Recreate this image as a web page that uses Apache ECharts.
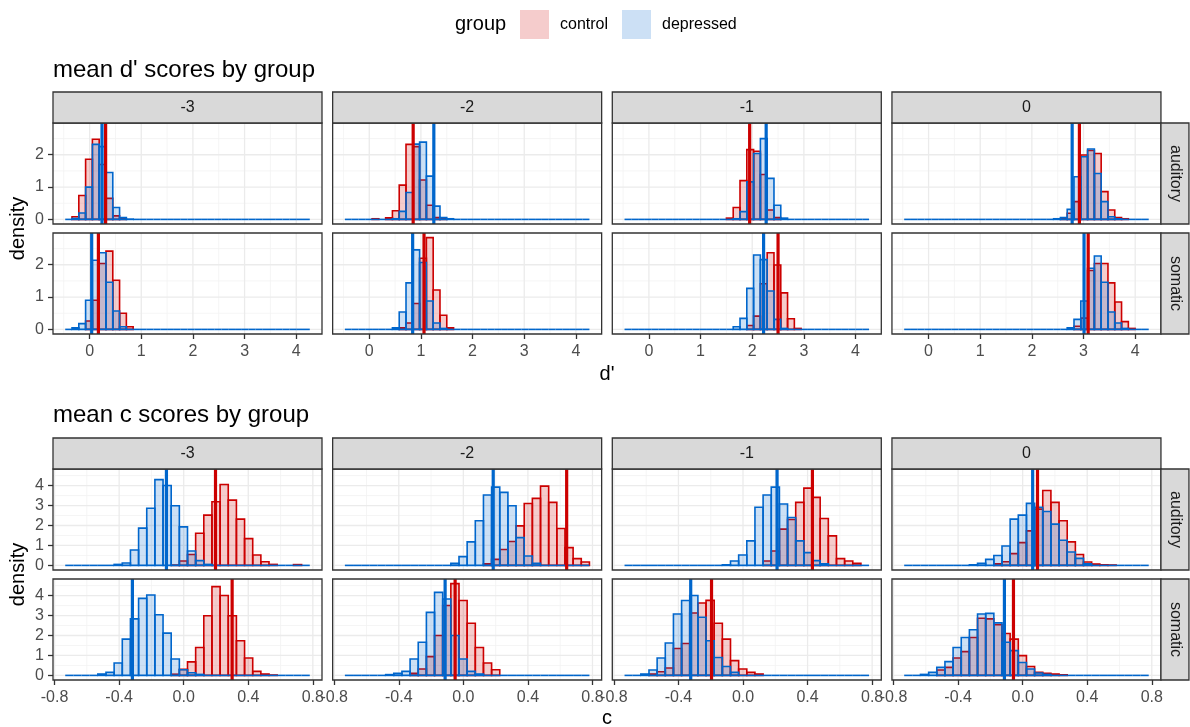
<!DOCTYPE html>
<html>
<head>
<meta charset="utf-8">
<script src="https://cdn.jsdelivr.net/npm/echarts@6/dist/echarts.min.js"></script>
<style>html,body{margin:0;padding:0;background:#fff}#chart{width:1190px;height:727px}</style>
</head>
<body>
<div id="chart"></div>
<script>
// ---------------- data ----------------
const facetCols = ['-3', '-2', '-1', '0'];
const facetRows = ['auditory', 'somatic'];
const groupNames = ['control', 'depressed'];

// d' histograms: shared bins
const dBinWidth = 0.1315, dBinOrigin = -0.472, dBinCount = 36;
// first non-empty bin index per column (-3, -2, -1, 0)
const dAudControlStart = [1, 4, 15, 23];
const dAudDepressedStart = [1, 7, 16, 22];
const dSomControlStart = [3, 8, 18, 25];
const dSomDepressedStart = [1, 7, 16, 24];
const dAudControl = [
  [0.08, 0.74, 1.86, 2.48, 1.70, 0.65, 0.11, 0.02],
  [0.02, 0, 0.05, 0.27, 1.06, 2.32, 2.25, 1.22, 0.44, 0.06, 0.02],
  [0.04, 0.37, 1.20, 2.16, 2.11, 1.39, 0.29, 0.06],
  [0.02, 0.19, 0.55, 1.99, 2.13, 2.04, 0.86, 0.29, 0.06, 0.02]
];
const dAudDepressed = [
  [0.03, 0.20, 1.00, 2.32, 2.25, 1.45, 0.37, 0.06, 0.01],
  [0.02, 0.25, 0.83, 2.33, 2.39, 1.34, 0.41, 0.06, 0.02],
  [0.02, 0.24, 1.16, 2.04, 2.50, 1.27, 0.44, 0.04],
  [0.02, 0.06, 0.31, 1.32, 1.94, 2.18, 1.42, 0.55, 0.08, 0.02]
];
const dSomControl = [
  [0.26, 0.90, 2.04, 2.42, 1.52, 0.50, 0.08],
  [0.05, 0.20, 0.80, 2.20, 2.84, 1.22, 0.44, 0.05],
  [0.12, 0.41, 1.41, 2.37, 1.99, 1.13, 0.33, 0.03],
  [0.10, 0.35, 1.82, 2.04, 2.04, 1.44, 0.85, 0.24, 0.03]
];
const dSomDepressed = [
  [0.05, 0.18, 0.90, 2.14, 2.37, 1.46, 0.57, 0.08],
  [0.05, 0.54, 1.44, 2.46, 2.07, 0.88, 0.20, 0.03],
  [0.08, 0.34, 1.27, 2.30, 2.16, 1.19, 0.31, 0.03],
  [0.05, 0.31, 0.88, 1.89, 2.27, 1.46, 0.54, 0.20, 0.03]
];
const dAudControlMean = [0.31, 0.85, 1.95, 2.92];
const dAudDepressedMean = [0.24, 1.25, 2.27, 2.78];
const dSomControlMean = [0.17, 1.06, 2.50, 3.09];
const dSomDepressedMean = [0.04, 0.84, 2.22, 3.01];

// c histograms: shared bins
const cBinWidth = 0.0505, cBinOrigin = -0.734, cBinCount = 30;
const cAudControlStart = [13, 17, 17, 11];
const cAudDepressedStart = [6, 13, 12, 8];
const cSomControlStart = [13, 8, 3, 4];
const cSomDepressedStart = [4, 5, 2, 2];
const cAudControl = [
  [0.02, 0.22, 0.55, 1.61, 2.52, 3.19, 4.05, 3.27, 2.32, 1.34, 0.52, 0.18, 0.05, 0, 0, 0.04],
  [0.08, 0.30, 0.80, 1.20, 1.98, 3.10, 3.36, 3.97, 3.16, 1.85, 0.89, 0.34, 0.17],
  [0.22, 0.72, 1.82, 2.30, 3.16, 3.87, 3.41, 2.35, 1.48, 0.34, 0.22, 0.10],
  [0.08, 0.18, 0.59, 1.14, 1.73, 2.82, 3.75, 3.16, 2.24, 1.18, 0.55, 0.17, 0.07, 0.03, 0.02]
];
const cAudDepressed = [
  [0.05, 0.12, 0.77, 1.87, 2.86, 4.30, 4.00, 2.99, 1.93, 0.72, 0.24, 0.05],
  [0.10, 0.44, 1.18, 2.24, 3.53, 3.92, 3.66, 2.99, 1.39, 0.47, 0.10],
  [0.03, 0.22, 0.52, 1.23, 2.91, 3.53, 3.92, 3.08, 2.40, 1.23, 0.64, 0.24, 0.08],
  [0.03, 0.10, 0.30, 0.50, 0.97, 2.32, 2.52, 3.11, 2.91, 2.70, 2.07, 1.26, 0.67, 0.35, 0.08]
];
const cSomControl = [
  [0.06, 0.30, 0.68, 1.40, 2.99, 4.45, 4.00, 2.99, 1.74, 0.87, 0.20, 0.07, 0.02],
  [0.10, 0.32, 0.94, 2.00, 3.50, 4.60, 3.75, 2.61, 1.40, 0.62, 0.28],
  [0.07, 0.18, 0.37, 1.35, 1.60, 3.13, 3.63, 3.76, 2.61, 1.82, 0.74, 0.32, 0.15, 0.07],
  [0.27, 0.40, 0.87, 1.19, 1.90, 2.86, 2.83, 2.54, 2.10, 1.82, 0.99, 0.45, 0.15, 0.10, 0.07, 0.03]
];
const cSomDepressed = [
  [0.07, 0.15, 0.62, 1.82, 2.83, 3.86, 4.03, 3.04, 2.12, 0.82, 0.28, 0.13, 0.05],
  [0.04, 0.10, 0.20, 0.82, 1.66, 3.16, 4.16, 3.83, 2.00, 0.82, 0.20, 0.07],
  [0.07, 0.27, 0.87, 1.62, 3.08, 3.75, 4.00, 2.91, 1.74, 0.90, 0.45, 0.15],
  [0.05, 0.15, 0.40, 0.69, 1.40, 1.90, 2.29, 3.08, 3.11, 2.63, 1.66, 1.24, 0.65, 0.32, 0.12, 0.05]
];
const cAudControlMean = [0.197, 0.64, 0.43, 0.092];
const cAudDepressedMean = [-0.107, 0.185, 0.211, 0.062];
const cSomControlMean = [0.30, -0.051, -0.195, -0.057];
const cSomDepressedMean = [-0.318, -0.113, -0.324, -0.113];

// tick labels
const dTicks = [0, 1, 2, 3, 4];
const cTicks = [-0.8, -0.4, 0, 0.4, 0.8];
const dDensityTicks = [0, 1, 2];
const cDensityTicks = [0, 1, 2, 3, 4];

// ---------------- layout & style ----------------
const FONT = 'Liberation Sans, Arial, Helvetica, sans-serif';
const RED = '#CC0000', BLUE = '#0066CC';
const RED_FILL = 'rgba(204,0,0,0.2)', BLUE_FILL = 'rgba(0,102,204,0.2)';
const PANEL_W = 269, PANEL_H = 101;
const COL_X = [53, 332.65, 612.3, 891.95];

const sections = [
  {
    title: "mean d' scores by group", titleY: 70, stripY: 92, rowY: [123, 233], xTitle: "d'", xTitleY: 374,
    binW: dBinWidth, origin: dBinOrigin, n: dBinCount, xTicks: dTicks, yTicks: dDensityTicks,
    fmt: v => String(v),
    hist: [[[dAudControlStart, dAudControl], [dAudDepressedStart, dAudDepressed]],
           [[dSomControlStart, dSomControl], [dSomDepressedStart, dSomDepressed]]],
    means: [[dAudControlMean, dAudDepressedMean], [dSomControlMean, dSomDepressedMean]]
  },
  {
    title: 'mean c scores by group', titleY: 415, stripY: 438, rowY: [469, 579], xTitle: 'c', xTitleY: 718,
    binW: cBinWidth, origin: cBinOrigin, n: cBinCount, xTicks: cTicks, yTicks: cDensityTicks,
    fmt: v => v.toFixed(1),
    hist: [[[cAudControlStart, cAudControl], [cAudDepressedStart, cAudDepressed]],
           [[cSomControlStart, cSomControl], [cSomDepressedStart, cSomDepressed]]],
    means: [[cAudControlMean, cAudDepressedMean], [cSomControlMean, cSomDepressedMean]]
  }
];

function minorBreaks(ticks, lo, hi) {
  const step = ticks[1] - ticks[0], out = [];
  out.push(ticks[0] - step / 2);
  ticks.forEach(t => out.push(t + step / 2));
  return out.filter(m => m > lo && m < hi);
}

function binItems(origin, w, n, start, heights) {
  const items = [];
  for (let k = 0; k < n; k++) {
    const i = k - start;
    const h = (i >= 0 && i < heights.length) ? heights[i] : 0;
    items.push([origin + k * w, origin + (k + 1) * w, h]);
  }
  return items;
}

function binRenderer(stroke, fill, drawZero) {
  return function (params, api) {
    const x0 = api.value(0), x1 = api.value(1), h = api.value(2);
    const p0 = api.coord([x0, 0]), p1 = api.coord([x1, h]);
    if (h === 0) {
      if (!drawZero) return null;
      return { type: 'line', shape: { x1: p0[0], y1: p0[1], x2: p1[0], y2: p0[1] },
               style: { stroke: stroke, lineWidth: 1.6 } };
    }
    return { type: 'rect',
             shape: { x: p0[0], y: p1[1], width: p1[0] - p0[0], height: p0[1] - p1[1] },
             style: { fill: fill, stroke: stroke, lineWidth: 1.6 } };
  };
}

function gridRenderer(params, api) {
  const cs = params.coordSys;
  const orient = api.value(2), major = api.value(3);
  const style = { stroke: major ? '#EBEBEB' : '#F2F2F2', lineWidth: major ? 1.3 : 0.8 };
  if (orient === 0) {
    const x = api.coord([api.value(0), 0])[0];
    return { type: 'line', shape: { x1: x, y1: cs.y, x2: x, y2: cs.y + cs.height }, style };
  }
  const y = api.coord([api.value(0), api.value(1)])[1];
  return { type: 'line', shape: { x1: cs.x, y1: y, x2: cs.x + cs.width, y2: y }, style };
}

function meanRenderer(color) {
  return function (params, api) {
    const cs = params.coordSys;
    const x = api.coord([api.value(0), 0])[0];
    return { type: 'line', shape: { x1: x, y1: cs.y, x2: x, y2: cs.y + cs.height },
             style: { stroke: color, lineWidth: 3.2 } };
  };
}

const option = {
  animation: false,
  backgroundColor: '#ffffff',
  grid: [], xAxis: [], yAxis: [], series: [], graphic: []
};
const G = option.graphic;

sections.forEach(sec => {
  const lo = sec.origin, hi = sec.origin + sec.n * sec.binW, pad = (hi - lo) * 0.05;
  const xMin = lo - pad, xMax = hi + pad;
  let maxH = 0;
  sec.hist.forEach(r => r.forEach(g => g[1].forEach(a => a.forEach(v => { if (v > maxH) maxH = v; }))));
  const yMin = -maxH * 0.05, yMax = maxH * 1.05;
  const xMinor = minorBreaks(sec.xTicks, xMin, xMax);
  const yMinor = minorBreaks(sec.yTicks, yMin, yMax);

  G.push({ type: 'text', x: COL_X[0], y: sec.titleY, z: 10,
    style: { text: sec.title, font: '24px ' + FONT, fill: '#000', textVerticalAlign: 'middle' } });
  G.push({ type: 'text', x: (COL_X[0] + COL_X[3] + PANEL_W) / 2, y: sec.xTitleY, z: 10,
    style: { text: sec.xTitle, font: '20px ' + FONT, fill: '#000', textAlign: 'center', textVerticalAlign: 'middle' } });
  G.push({ type: 'text', x: 18, y: (sec.rowY[0] + sec.rowY[1] + PANEL_H) / 2, rotation: Math.PI / 2, z: 10,
    style: { text: 'density', font: '20px ' + FONT, fill: '#000', textAlign: 'center', textVerticalAlign: 'middle' } });

  facetCols.forEach((colName, c) => {
    G.push({ type: 'rect', z: 10, shape: { x: COL_X[c], y: sec.stripY, width: PANEL_W, height: sec.rowY[0] - sec.stripY },
      style: { fill: '#D9D9D9', stroke: '#333333', lineWidth: 1.3 } });
    G.push({ type: 'text', z: 11, x: COL_X[c] + PANEL_W / 2, y: (sec.stripY + sec.rowY[0]) / 2,
      style: { text: colName, font: '16px ' + FONT, fill: '#1A1A1A', textAlign: 'center', textVerticalAlign: 'middle' } });
  });

  facetRows.forEach((rowName, r) => {
    const top = sec.rowY[r];
    G.push({ type: 'rect', z: 10, shape: { x: COL_X[3] + PANEL_W, y: top, width: 28, height: PANEL_H },
      style: { fill: '#D9D9D9', stroke: '#333333', lineWidth: 1.3 } });
    G.push({ type: 'text', z: 11, x: COL_X[3] + PANEL_W + 14, y: top + PANEL_H / 2, rotation: -Math.PI / 2,
      style: { text: rowName, font: '16px ' + FONT, fill: '#1A1A1A', textAlign: 'center', textVerticalAlign: 'middle' } });

    facetCols.forEach((colName, c) => {
      const gi = option.grid.length;
      const left = COL_X[c];
      option.grid.push({ left: left, top: top, width: PANEL_W, height: PANEL_H, show: true,
        backgroundColor: '#ffffff', borderWidth: 0, containLabel: false });
      G.push({ type: 'rect', z: 9, shape: { x: left, y: top, width: PANEL_W, height: PANEL_H },
        style: { fill: 'none', stroke: '#333333', lineWidth: 1.3 } });
      const bottomRow = r === 1, leftCol = c === 0;
      option.xAxis.push({
        gridIndex: gi, type: 'value', min: xMin, max: xMax,
        axisLine: { show: false, onZero: false }, splitLine: { show: false },
        axisTick: { show: bottomRow, length: 5, customValues: sec.xTicks, lineStyle: { color: '#333333', width: 1.3 } },
        axisLabel: { show: bottomRow, customValues: sec.xTicks, formatter: sec.fmt, margin: 10,
          color: '#4D4D4D', fontSize: 16, fontFamily: FONT }
      });
      option.yAxis.push({
        gridIndex: gi, type: 'value', min: yMin, max: yMax,
        axisLine: { show: false, onZero: false }, splitLine: { show: false },
        axisTick: { show: leftCol, length: 5, customValues: sec.yTicks, lineStyle: { color: '#333333', width: 1.3 } },
        axisLabel: { show: leftCol, customValues: sec.yTicks, formatter: v => String(v), margin: 9,
          color: '#4D4D4D', fontSize: 16, fontFamily: FONT }
      });
      const gridData = [];
      xMinor.forEach(v => gridData.push([v, 0, 0, 0]));
      yMinor.forEach(v => gridData.push([xMin, v, 1, 0]));
      sec.xTicks.forEach(v => gridData.push([v, 0, 0, 1]));
      sec.yTicks.forEach(v => gridData.push([xMin, v, 1, 1]));
      option.series.push({ type: 'custom', xAxisIndex: gi, yAxisIndex: gi, z: 1, silent: true,
        renderItem: gridRenderer, encode: { x: 0, y: 1 }, data: gridData });

      const strokes = [RED, BLUE], fills = [RED_FILL, BLUE_FILL];
      [0, 1].forEach(g => {
        const [starts, heights] = sec.hist[r][g];
        option.series.push({ type: 'custom', name: groupNames[g], xAxisIndex: gi, yAxisIndex: gi, z: 2 + g,
          silent: true, renderItem: binRenderer(strokes[g], fills[g], g === 1), encode: { x: [0, 1], y: 2 },
          data: binItems(sec.origin, sec.binW, sec.n, starts[c], heights[c]) });
      });
      [0, 1].forEach(g => {
        option.series.push({ type: 'custom', xAxisIndex: gi, yAxisIndex: gi, z: 4 + g, silent: true,
          renderItem: meanRenderer(strokes[g]), encode: { x: 0, y: 1 },
          data: [[sec.means[r][g][c], 0]] });
      });
    });
  });
});

// legend
G.push({ type: 'text', x: 455, y: 24, z: 10,
  style: { text: 'group', font: '20px ' + FONT, fill: '#000', textVerticalAlign: 'middle' } });
G.push({ type: 'rect', z: 10, shape: { x: 520, y: 10, width: 29, height: 29 }, style: { fill: RED_FILL } });
G.push({ type: 'text', x: 560, y: 25, z: 10,
  style: { text: groupNames[0], font: '16px ' + FONT, fill: '#000', textVerticalAlign: 'middle' } });
G.push({ type: 'rect', z: 10, shape: { x: 622, y: 10, width: 29, height: 29 }, style: { fill: BLUE_FILL } });
G.push({ type: 'text', x: 662, y: 25, z: 10,
  style: { text: groupNames[1], font: '16px ' + FONT, fill: '#000', textVerticalAlign: 'middle' } });

const chart = echarts.init(document.getElementById('chart'));
chart.setOption(option);
</script>
</body>
</html>
